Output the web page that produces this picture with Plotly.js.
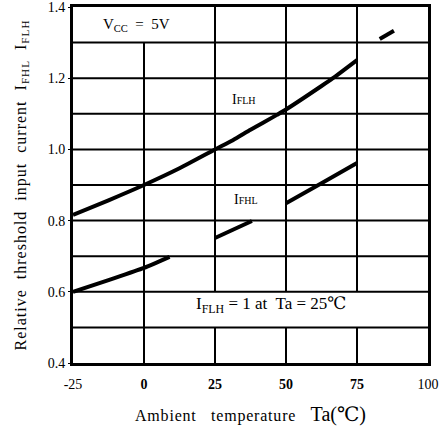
<!DOCTYPE html>
<html>
<head>
<meta charset="utf-8">
<script src="https://cdn.plot.ly/plotly-3.0.1.min.js"></script>
<style>html,body{margin:0;padding:0;background:#fff;}#chart{width:443px;height:426px;}</style>
</head>
<body>
<div id="chart"></div>
<script>
// Ambient temperature Ta (°C) and relative threshold input current
const iflhTemp = [-25, -12.5, 0, 12.5, 25, 31.3, 37.5, 46.8, 50, 62.5, 66.5, 75, 80, 83, 88];
const iflhVal  = [0.816, 0.857, 0.90, 0.947, 1.0, 1.026, 1.055, 1.097, 1.112, 1.178, 1.20, 1.251, null, 1.31, 1.333];
const ifhlTemp = [-25, -12.5, 0, 9, 17, 25, 38, 44, 50, 62.5, 75];
const ifhlVal  = [0.60, 0.633, 0.667, 0.698, null, 0.751, 0.799, null, 0.849, 0.905, 0.962];

const xTickVals = [-25, 0, 25, 50, 75, 100];
const xTickText = ['-25', '<b>0</b>', '<b>25</b>', '<b>50</b>', '<b>75</b>', '100'];
const yTickVals = [0.4, 0.6, 0.8, 1.0, 1.2, 1.4];
const yTickText = ['0.4', '0.6', '0.8', '1.0', '1.2', '1.4'];

// grid lines (every 25 °C and every 0.1) and the label boxes that interrupt them
const gridX = [-25, 0, 25, 50, 75, 100];
const gridY = [0.4, 0.5, 0.6, 0.7, 0.8, 0.9, 1.0, 1.1, 1.2, 1.3, 1.4];
const boxX0 = [-25, 0];
const boxX1 = [25, 100];
const boxY0 = [1.3, 0.5];
const boxY1 = [1.4, 0.6];

const FONT = '"Liberation Serif", "DejaVu Serif", serif';

function inBox(x, ya, yb) {
  for (let k = 0; k < boxX0.length; k++) {
    if (x > boxX0[k] && x < boxX1[k] && ya >= boxY0[k] - 1e-9 && yb <= boxY1[k] + 1e-9) return true;
  }
  return false;
}
const gx = [], gy = [];
gridX.slice(1, -1).forEach(x => {
  let start = null;
  for (let i = 0; i < gridY.length - 1; i++) {
    const hidden = inBox(x, gridY[i], gridY[i + 1]);
    if (!hidden && start === null) start = gridY[i];
    if (hidden && start !== null) { gx.push(x, x, null); gy.push(start, gridY[i], null); start = null; }
  }
  if (start !== null) { gx.push(x, x, null); gy.push(start, gridY[gridY.length - 1], null); }
});
gridY.slice(1, -1).forEach(y => {
  gx.push(gridX[0], gridX[gridX.length - 1], null);
  gy.push(y, y, null);
});

const traces = [
  {x: gx, y: gy, mode: 'lines', line: {color: '#000', width: 2}, hoverinfo: 'skip'},
  {x: iflhTemp, y: iflhVal, mode: 'lines', line: {color: '#000', width: 4, shape: 'spline', smoothing: 0.6}, connectgaps: false, hoverinfo: 'skip'},
  {x: ifhlTemp, y: ifhlVal, mode: 'lines', line: {color: '#000', width: 4, shape: 'spline', smoothing: 0.6}, connectgaps: false, hoverinfo: 'skip'}
];

const layout = {
  width: 443, height: 426,
  margin: {l: 73, r: 15, t: 7, b: 63},
  paper_bgcolor: '#fff', plot_bgcolor: '#fff',
  showlegend: false,
  font: {family: FONT, color: '#000', size: 14},
  xaxis: {
    range: [-25, 100], tickmode: 'array', tickvals: xTickVals, ticktext: xTickText,
    showgrid: false, zeroline: false, showline: true, linecolor: '#000', linewidth: 3, mirror: true,
    ticks: '', ticklabelstandoff: 6, ticklabeloverflow: 'allow',
    tickfont: {family: FONT, size: 14, color: '#000'},
    title: {text: '<span style="letter-spacing:0.8px">Ambient   temperature   </span><span style="font-size:20px">Ta(℃)</span>', font: {family: FONT, size: 16, color: '#000'}, standoff: 20}
  },
  yaxis: {
    range: [0.4, 1.4], tickmode: 'array', tickvals: yTickVals, ticktext: yTickText,
    showgrid: false, zeroline: false, showline: true, linecolor: '#000', linewidth: 3, mirror: true,
    ticks: 'outside', ticklen: 2, tickwidth: 1, tickcolor: '#000', ticklabeloverflow: 'allow',
    tickfont: {family: FONT, size: 14, color: '#000'},
    title: {text: '<span style="letter-spacing:1px">Relative  threshold  input  current  I<sub>FHL</sub>  I<sub>FLH</sub></span>', font: {family: FONT, size: 16, color: '#000'}, standoff: 18}
  },
  annotations: [
    {x: -2.5, y: 1.35, xref: 'x', yref: 'y', text: 'V<sub>CC</sub>  =  5V', showarrow: false, font: {family: FONT, size: 15, color: '#000'}},
    {x: 35.2, y: 1.14, xref: 'x', yref: 'y', text: 'I<span style="font-size:10px">FLH</span>', showarrow: false, font: {family: FONT, size: 14, color: '#000'}},
    {x: 35.9, y: 0.86, xref: 'x', yref: 'y', text: 'I<span style="font-size:10px">FHL</span>', showarrow: false, font: {family: FONT, size: 14, color: '#000'}},
    {x: 44.7, y: 0.562, xref: 'x', yref: 'y', text: 'I<sub>FLH</sub> = 1 at  Ta = 25℃', showarrow: false, font: {family: FONT, size: 17, color: '#000'}}
  ]
};

Plotly.newPlot('chart', traces, layout, {staticPlot: true, displayModeBar: false});
</script>
</body>
</html>
